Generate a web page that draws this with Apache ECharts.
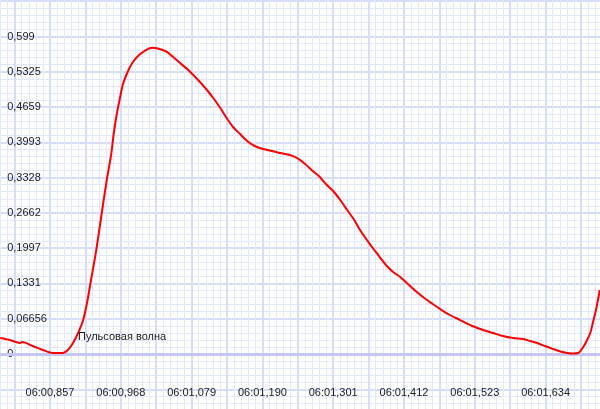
<!DOCTYPE html>
<html>
<head>
<meta charset="utf-8">
<script src="https://cdn.jsdelivr.net/npm/echarts@6/dist/echarts.min.js"></script>
<style>html,body{margin:0;padding:0;background:#fff;}#c{width:600px;height:409px;}</style>
</head>
<body>
<div id="c"></div>
<script>
// time in ms relative to 06:00,857
var timeMs = [-78,-63,-47,-44,-27,-11,5,20,28,36,44,52,58,64,71,77,83,89,96,100,105,110,114,121,129,138,149,160,169,182,193,204,220,235,246,256,267,278,287,298,309,321,334,348,361,376,387,400,412,423,434,444,455,466,477,486,497,506,517,528,538,549,561,575,591,607,624,643,662,679,695,710,726,742,753,764,776,789,800,811,820,828,836,842,847,851,856,859,862];
var pulseWave = [0.0302,0.0264,0.0208,0.0226,0.0151,0.0075,0.0019,0.0019,0.0075,0.0208,0.0396,0.0641,0.0962,0.1377,0.1849,0.2320,0.2811,0.3283,0.3773,0.4169,0.4546,0.4848,0.5075,0.5301,0.5490,0.5622,0.5725,0.5778,0.5763,0.5707,0.5603,0.5490,0.5320,0.5131,0.4980,0.4829,0.4641,0.4433,0.4282,0.4150,0.4018,0.3924,0.3867,0.3830,0.3792,0.3754,0.3698,0.3584,0.3452,0.3339,0.3188,0.3075,0.2905,0.2717,0.2528,0.2339,0.2151,0.2000,0.1830,0.1660,0.1547,0.1453,0.1321,0.1170,0.1019,0.0887,0.0755,0.0641,0.0528,0.0453,0.0396,0.0340,0.0302,0.0283,0.0245,0.0208,0.0151,0.0094,0.0047,0.0019,0.0009,0.0019,0.0132,0.0264,0.0396,0.0585,0.0830,0.1019,0.1207];
var xTickLabels = ['06:00,857','06:00,968','06:01,079','06:01,190','06:01,301','06:01,412','06:01,523','06:01,634'];
var yTickLabels = ['0','0,06656','0,1331','0,1997','0,2662','0,3328','0,3993','0,4659','0,5325','0,599'];
var seriesName = 'Пульсовая волна';

var X_INT = 55.5;
var Y_INT = 0.0665556;

var data = timeMs.map(function(t, i){ return [t, pulseWave[i]]; });
var chart = echarts.init(document.getElementById('c'), null, {renderer:'canvas'});
var font = 'Liberation Sans';
chart.setOption({
  animation: false,
  backgroundColor: '#ffffff',
  grid: {left: -20.8, right: -16.4, top: -34.1, bottom: -15.6, containLabel: false, outerBoundsMode: 'none'},
  xAxis: {
    type: 'value', min: -2 * X_INT, max: 16 * X_INT, interval: X_INT,
    axisLine: {show: false}, axisTick: {show: false},
    minorTick: {show: true, splitNumber: 5, length: 0, lineStyle: {color: 'rgba(0,0,0,0)'}},
    splitLine: {show: true, lineStyle: {color: '#d7defa', width: 2}},
    minorSplitLine: {show: true, lineStyle: {color: '#e2e8fe', width: 1}},
    axisLabel: {
      inside: true, margin: 26, color: '#222', fontFamily: font, fontSize: 11,
      showMinLabel: true, showMaxLabel: true,
      formatter: function(v){
        var k = Math.round(v / X_INT);
        if (k < 0 || k % 2 !== 0) return '';
        var idx = k / 2;
        return idx < xTickLabels.length ? xTickLabels[idx] : '';
      }
    }
  },
  yAxis: {
    type: 'value', min: -2 * Y_INT, max: 11 * Y_INT, interval: Y_INT,
    axisLine: {show: false}, axisTick: {show: false},
    minorTick: {show: true, splitNumber: 5, length: 0, lineStyle: {color: 'rgba(0,0,0,0)'}},
    splitLine: {show: true, lineStyle: {color: '#d7defa', width: 2}},
    minorSplitLine: {show: true, lineStyle: {color: '#e2e8fe', width: 1}},
    axisLabel: {
      inside: true, margin: 28, color: '#222', fontFamily: font, fontSize: 11,
      formatter: function(v){
        var k = Math.round(v / Y_INT);
        if (k < 0 || k >= yTickLabels.length) return '';
        return yTickLabels[k];
      }
    }
  },
  series: [{
    name: seriesName,
    type: 'line',
    data: data,
    smooth: 0.3,
    showSymbol: false,
    lineStyle: {color: '#ff0000', width: 2},
    markLine: {
      silent: true, symbol: 'none', label: {show: false},
      lineStyle: {color: '#c6c6f2', width: 3, type: 'solid'},
      data: [{yAxis: 0}]
    },
    z: 5
  }],
  graphic: [{
    type: 'text', left: 78, top: 331, z: 10,
    style: {text: seriesName, fill: '#222', font: '11px "Liberation Sans"'}
  }]
});
</script>
</body>
</html>
